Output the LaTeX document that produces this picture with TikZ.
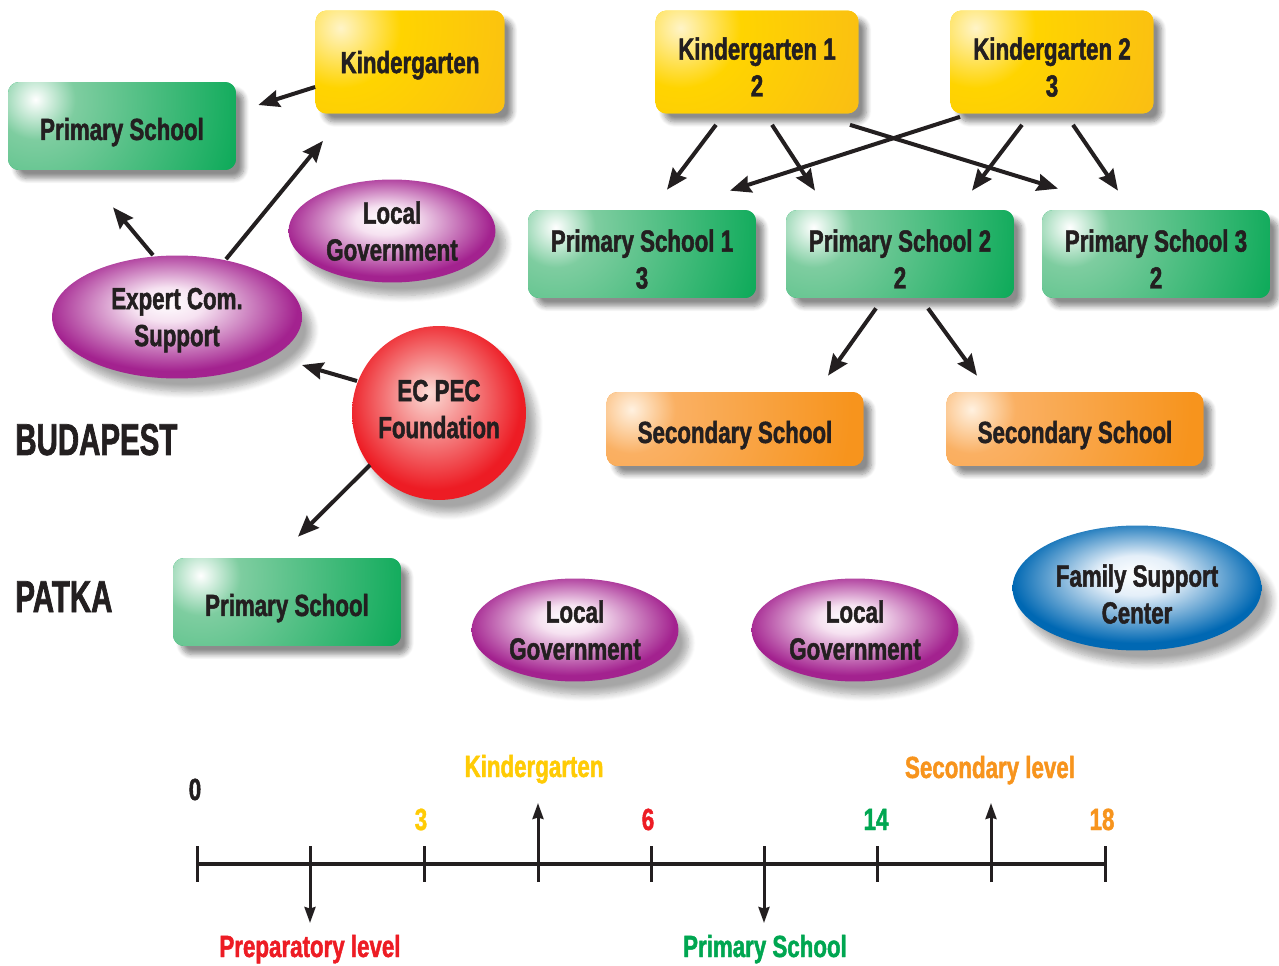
\documentclass[tikz,border=0pt]{standalone}
\usepackage{fontspec}
\newfontfamily\hf{Liberation Sans}[FakeStretch=0.73, BoldFeatures={FakeBold=1.5}]
\newfontfamily\hfc{Liberation Sans}[FakeStretch=0.66, BoldFeatures={FakeBold=1.5}]
\usetikzlibrary{shapes.geometric,shadows.blur,arrows.meta,calc}
\definecolor{txt}{HTML}{231F20}
\definecolor{grn}{HTML}{00A651}
\definecolor{grnL}{HTML}{7ECDA0}
\definecolor{ylw}{HTML}{FFD400}
\definecolor{ylwL}{HTML}{FFF4C8}
\definecolor{ylwD}{HTML}{F8B51B}
\definecolor{org}{HTML}{F7941D}
\definecolor{orgL}{HTML}{FAB063}
\definecolor{orgW}{HTML}{FFF1E0}
\definecolor{pur}{HTML}{A3228F}
\definecolor{purL}{HTML}{F6E2F1}
\definecolor{rd}{HTML}{ED1C24}
\definecolor{rdL}{HTML}{FBDCD6}
\definecolor{blu}{HTML}{0068B3}
\definecolor{bluL}{HTML}{E4EFF9}
\definecolor{tylw}{HTML}{FFCB05}
\pgfdeclareradialshading{gshade}{\pgfpoint{0bp}{0bp}}{color(0bp)=(white); color(4bp)=(grnL); color(23bp)=(grn); color(50bp)=(grn)}
\pgfdeclareradialshading{yshade}{\pgfpoint{0bp}{0bp}}{color(0bp)=(ylwL); color(6bp)=(ylw); color(25bp)=(ylwD); color(50bp)=(ylwD)}
\pgfdeclareradialshading{oshade}{\pgfpoint{0bp}{0bp}}{color(0bp)=(orgW); color(4bp)=(orgL); color(20bp)=(org); color(50bp)=(org)}
\pgfdeclareradialshading{pshade}{\pgfpoint{-2bp}{6bp}}{color(0bp)=(white); color(7bp)=(purL); color(25bp)=(pur); color(50bp)=(pur)}
\pgfdeclareradialshading{rshade}{\pgfpoint{-3bp}{6bp}}{color(0bp)=(rdL); color(25bp)=(rd); color(50bp)=(rd)}
\pgfdeclareradialshading{bshade}{\pgfpoint{0bp}{6bp}}{color(0bp)=(white); color(8bp)=(bluL); color(25bp)=(blu); color(50bp)=(blu)}
\begin{document}
\begin{tikzpicture}[x=0.02cm,y=-0.02cm,
  every node/.style={text=txt},
  lbl/.style={font=\hf\bfseries\fontsize{17.4}{21}\selectfont, align=center, inner sep=0pt, text depth=0pt},
  one/.style={text height=0.56cm},
  two/.style={text height=1.38cm},
  bigl/.style={font=\hfc\bfseries\fontsize{25.4}{30}\selectfont, inner sep=0pt, anchor=base west},
  tl/.style={font=\hf\bfseries\fontsize{17.4}{21}\selectfont, inner sep=0pt, anchor=base},
  bsh/.style={blur shadow={shadow xshift=0.16cm, shadow yshift=-0.17cm, shadow blur radius=0.1cm, shadow blur steps=8, shadow opacity=45}},
  osh/.style={blur shadow={shadow xshift=0.2cm, shadow yshift=-0.26cm, shadow blur radius=0.14cm, shadow blur steps=8, shadow opacity=35}},
  box/.style={lbl, bsh, rectangle, rounded corners=0.22cm, minimum width=4.56cm, minimum height=1.76cm},
  gbox/.style={box, fill=grn, path picture={\shade[shading=gshade] ([xshift=0.55cm,yshift=-0.35cm]path picture bounding box.north west) circle (5cm);}},
  ybox/.style={box, fill=ylw, minimum height=2.06cm, path picture={\shade[shading=yshade] ([xshift=0.5cm,yshift=-0.35cm]path picture bounding box.north west) circle (5cm);}},
  obox/.style={box, fill=org, minimum width=5.14cm, minimum height=1.48cm, path picture={\shade[shading=oshade] ([xshift=0.5cm,yshift=-0.35cm]path picture bounding box.north west) circle (5.5cm);}},
  oval/.style={lbl, osh, ellipse, minimum width=4.14cm, minimum height=2.06cm},
  pov/.style={oval, shade, shading=pshade},
  arr/.style={line width=0.08cm, draw=txt, -{Stealth[length=0.42cm,width=0.34cm,inset=0.05cm]}},
  tarr/.style={line width=0.06cm, draw=txt, -{Stealth[length=0.32cm,width=0.22cm,inset=0.03cm]}},
  axisl/.style={line width=0.085cm, draw=txt},
  tick/.style={line width=0.06cm, draw=txt},
]
\useasboundingbox (0,0) rectangle (1279,966);

% nodes
\node[gbox, one] (ps0) at (122,126) {Primary School};
\node[ybox, minimum width=3.78cm] (kg) at (410,62) {Kindergarten};
\node[pov] (lg1) at (392,231) {Local\\Government};
\node[pov, minimum width=5cm, minimum height=2.46cm] (ex) at (177,317) {Expert Com.\\Support};
\node[lbl, osh, circle, minimum size=3.48cm, shade, shading=rshade, text depth=0.16cm] (ec) at (439,413) {EC PEC\\Foundation};
\node[bigl] (bud) at (15,455) {BUDAPEST};
\node[bigl] (pat) at (15,612) {PATKA};
\node[gbox, one] (pp) at (287,602) {Primary School};
\node[pov] (lg2) at (575,630) {Local\\Government};
\node[pov] (lg3) at (855,630) {Local\\Government};
\node[oval, minimum width=4.98cm, minimum height=2.5cm, shade, shading=bshade, text height=1.42cm] (fs) at (1137,588) {Family Support\\Center};

\node[ybox, two, minimum width=4.06cm] (k1) at (757,62) {Kindergarten 1\\2};
\node[ybox, two, minimum width=4.06cm] (k2) at (1052,62) {Kindergarten 2\\3};
\node[gbox, two] (ps1) at (642,254) {Primary School 1\\3};
\node[gbox, two] (ps2) at (900,254) {Primary School 2\\2};
\node[gbox, two] (ps3) at (1156,254) {Primary School 3\\2};
\node[obox, one] (s1) at (735,429) {Secondary School};
\node[obox, one] (s2) at (1075,429) {Secondary School};

% connectors
\draw[arr] ([shift={(0,25)}]kg.west) -- ([shift={(22,-21)}]ps0.east);
\draw[arr] ([shift={(-24,0)}]ex.north) -- ([shift={(-9,37)}]ps0.south);
\draw[arr] ([shift={(49,4)}]ex.north) -- ([shift={(-87,27)}]kg.south);
\draw[arr] ([shift={(-82,-32)}]ec.center) -- ([shift={(125,48)}]ex.center);
\draw[arr] ([shift={(-69,52)}]ec.center) -- ([shift={(11,-21)}]pp.north);
\draw[arr] ([shift={(-41,11)}]k1.south) -- ([shift={(25,-20)}]ps1.north);
\draw[arr] ([shift={(15,11)}]k1.south) -- ([shift={(-85,-19)}]ps2.north);
\draw[arr] ([shift={(93,11)}]k1.south) -- ([shift={(-98,-21)}]ps3.north);
\draw[arr] ([shift={(-92,3)}]k2.south) -- ([shift={(88,-19)}]ps1.north);
\draw[arr] ([shift={(-30,11)}]k2.south) -- ([shift={(72,-19)}]ps2.north);
\draw[arr] ([shift={(21,11)}]k2.south) -- ([shift={(-38,-19)}]ps3.north);
\draw[arr] ([shift={(-24,10)}]ps2.south) -- ([shift={(93,-16)}]s1.north);
\draw[arr] ([shift={(28,10)}]ps2.south) -- ([shift={(-98,-16)}]s2.north);

% timeline
\coordinate (a0) at (197,864);
\coordinate (a8) at (1105,864);
\draw[axisl] (a0) -- (a8);
\foreach \x in {197,310,424,538,651,764,877,991,1105} {
  \draw[tick] (\x,846) -- (\x,882);
}
\coordinate (u1b) at (538,882); \coordinate (u1t) at (538,803);
\coordinate (u2b) at (991,882); \coordinate (u2t) at (991,803);
\coordinate (d1t) at (310,846); \coordinate (d1b) at (310,923);
\coordinate (d2t) at (764,846); \coordinate (d2b) at (764,923);
\draw[tarr] (u1b) -- (u1t);
\draw[tarr] (u2b) -- (u2t);
\draw[tarr] (d1t) -- (d1b);
\draw[tarr] (d2t) -- (d2b);

\node[tl] (n0) at (195,800) {0};
\node[tl, text=tylw] (n3) at (421,830) {3};
\node[tl, text=rd] (n6) at (648,830) {6};
\node[tl, text=grn] (n14) at (876,830) {14};
\node[tl, text=org] (n18) at (1102,830) {18};
\node[tl, text=tylw] (lk) at (534,777) {Kindergarten};
\node[tl, text=org] (lsec) at (990,778) {Secondary level};
\node[tl, text=rd] (lprep) at (310,957) {Preparatory level};
\node[tl, text=grn] (lprim) at (765,957) {Primary School};
\end{tikzpicture}
\end{document}
